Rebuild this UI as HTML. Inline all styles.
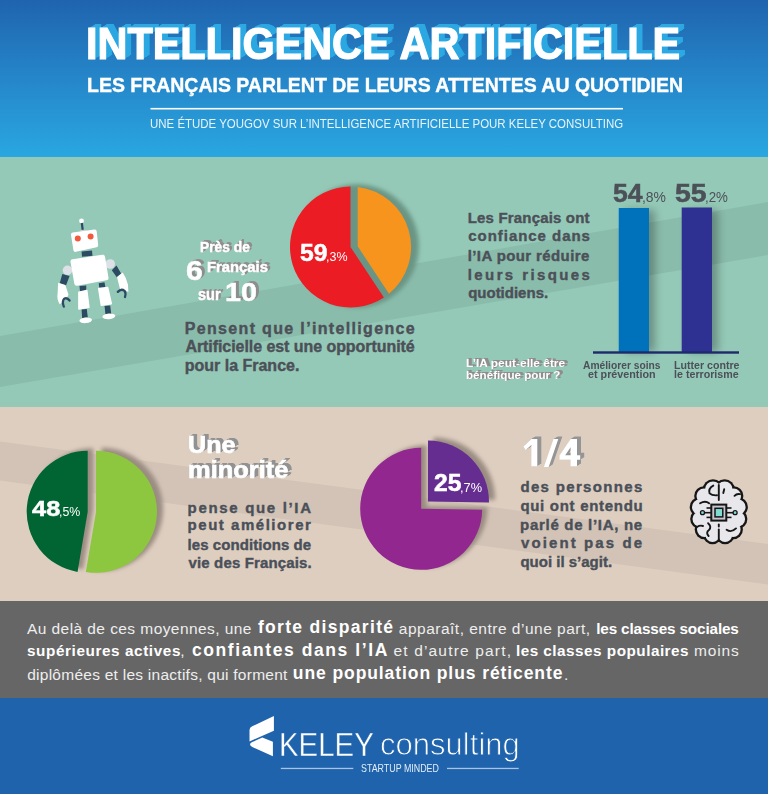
<!DOCTYPE html>
<html><head><meta charset="utf-8">
<style>
html,body{margin:0;padding:0;}
body{width:768px;height:794px;position:relative;overflow:hidden;font-family:"Liberation Sans",sans-serif;background:#95c8b5;}
.t{position:absolute;white-space:nowrap;line-height:1;transform-origin:0 0;}
svg{position:absolute;left:0;top:0;}
</style></head><body>
<svg width="768" height="794" viewBox="0 0 768 794">
  <defs>
    <linearGradient id="hg" x1="0" y1="0" x2="0" y2="1"><stop offset="0" stop-color="#1f64ae"/><stop offset="0.5" stop-color="#2586c9"/><stop offset="1" stop-color="#29a7e0"/></linearGradient>
    <filter id="bl3" x="-20%" y="-20%" width="140%" height="140%"><feGaussianBlur stdDeviation="2.5"/></filter>
    <filter id="bl4" x="-30%" y="-30%" width="160%" height="160%"><feGaussianBlur stdDeviation="2.3"/></filter>
    <filter id="bl5" x="-50%" y="-20%" width="200%" height="140%"><feGaussianBlur stdDeviation="4"/></filter>
  </defs>
  <!-- header -->
  <rect x="0" y="0" width="768" height="157" fill="url(#hg)"/>
  <rect x="150.5" y="107.9" width="472.5" height="1.6" fill="#fff"/>
  <!-- teal -->
  <rect x="0" y="157" width="768" height="250" fill="#95c9b7"/>
  <polygon points="0,336 768,202 768,255 0,387" fill="#8abcab"/>
  <!-- beige -->
  <rect x="0" y="407" width="768" height="194" fill="#decec0"/>
  <polygon points="0,441.5 768,544 768,584.5 0,480.5" fill="#d2c3b6"/>

  <!-- robot -->
  <g>
    <circle cx="81.5" cy="221" r="2.4" fill="#fff"/>
    <line x1="81.8" y1="223" x2="82.8" y2="231" stroke="#2c4a62" stroke-width="2.2"/>
    <ellipse cx="83.5" cy="231" rx="3.5" ry="1.3" fill="#c9ccd3"/>
    <polygon points="73,234.6 94.7,231.6 96.2,245.2 75.4,249.9" fill="#fff" stroke="#fff" stroke-width="4" stroke-linejoin="round"/>
    <circle cx="77.8" cy="238.4" r="3" fill="#f15a3a"/>
    <circle cx="90.6" cy="236.4" r="3" fill="#f15a3a"/>
    <polygon points="81.6,251.5 92,250.5 92.5,255.7 82,256.8" fill="#2c4a62"/>
    <circle cx="67.5" cy="270.3" r="4.8" fill="#dde0e6"/>
    <circle cx="110.2" cy="264" r="4.8" fill="#dde0e6"/>
    <polygon points="62.3,274 69.6,276 66,285.4 59.7,283.3" fill="#2c4a62"/>
    <path d="M58.1,282.8 L65.4,284.9 L68.5,294.8 Q67,299 63.9,301 L59.7,304.2 Q56.5,299 57.6,293.75 Z" fill="#fff"/>
    <path d="M69.6,300.5 Q67,297.2 64.2,298.8 Q61.8,301.5 63.8,306.6" fill="none" stroke="#2c4a62" stroke-width="2.3" stroke-linecap="round"/>
    <polygon points="111.8,270.3 116.5,265.6 121.1,273.4 117,277.6" fill="#2c4a62"/>
    <path d="M117,277 L122.7,272.4 Q126.5,278 127.9,284.4 L128.4,291.7 L120.1,289.6 Z" fill="#fff"/>
    <path d="M117.8,291.9 Q121.2,288.3 124.5,290.8 Q126.2,293 125,297" fill="none" stroke="#2c4a62" stroke-width="2.3" stroke-linecap="round"/>
    <polygon points="79.5,286 86.25,285.4 86.25,291 80,291.5" fill="#2c4a62"/>
    <polygon points="98.75,283.3 104.5,282.3 105.5,288 99.3,288.5" fill="#2c4a62"/>
    <polygon points="73,261.8 102.6,257.3 106,277.8 76.8,283.3" fill="#fff" stroke="#fff" stroke-width="5" stroke-linejoin="round"/>
    <polygon points="78.9,292.2 86.8,290.6 88.9,307.3 78.9,308.9" fill="#fff" stroke="#fff" stroke-width="1.5" stroke-linejoin="round"/>
    <polygon points="98.7,288.5 107.6,287.5 111.3,303.7 101.3,305.2" fill="#fff" stroke="#fff" stroke-width="1.5" stroke-linejoin="round"/>
    <polygon points="81.6,309.6 86.8,309.1 87.8,317.5 82.1,318" fill="#2c4a62"/>
    <polygon points="104.5,306 110.2,305.5 111.25,314 105.5,314.5" fill="#2c4a62"/>
    <ellipse cx="85.7" cy="320.3" rx="6.3" ry="2.8" fill="#fff" transform="rotate(-5 85.7 320.3)"/>
    <ellipse cx="108.9" cy="316.4" rx="6.5" ry="2.8" fill="#fff" transform="rotate(-5 108.9 316.4)"/>
  </g>

  <!-- pie 1 -->
  <circle cx="357" cy="246" r="61.8" fill="#6a9585" filter="url(#bl4)"/>
  <path d="M350.5,247 L350.5,186.5 A60.5,60.5 0 1,0 383.9,297.45 Z" fill="#ec1c24"/>
  <path d="M357.7,186.93 L357.7,246.3 L389,293.7 A60.5,60.5 0 0,0 357.7,186.93 Z" fill="#f7941d"/>

  <!-- bars -->
  <g filter="url(#bl5)" fill="#000" opacity="0.28">
    <rect x="625" y="210" width="30" height="142"/>
    <rect x="688" y="210" width="30" height="142"/>
  </g>
  <rect x="618.75" y="208" width="30.25" height="144" fill="#0072bc"/>
  <rect x="681.7" y="207.5" width="30.3" height="144.5" fill="#2e3192"/>
  <rect x="593" y="351.3" width="146" height="2.4" fill="#1f2a6c"/>

  <!-- pie 2 -->
  <g filter="url(#bl4)" fill="#9b8c82"><path d="M93.20,509.25 L83.03,569.40 A61,61 0 0,1 93.20,448.25 Z"/><path d="M101.50,509.25 L101.50,447.75 A61.5,61.5 0 1,1 91.24,569.89 Z"/></g>
  <path d="M87.70,511.75 L77.53,571.90 A61,61 0 0,1 87.70,450.75 Z" fill="#006532"/>
  <path d="M96.00,511.75 L96.00,450.75 A61,61 0 1,1 85.83,571.90 Z" fill="#8dc63f"/>

  <!-- pie 3 -->
  <g filter="url(#bl4)" fill="#9a8c81"><path d="M426.70,506.30 L487.69,507.15 A61,61 0 1,1 426.70,445.30 Z"/><path d="M433.50,499.10 L433.50,437.60 A61.5,61.5 0 0,1 494.99,499.96 Z"/></g>
  <path d="M421.20,508.80 L482.19,509.65 A61,61 0 1,1 421.20,447.80 Z" fill="#92278f"/>
  <path d="M428.00,501.60 L428.00,440.60 A61,61 0 0,1 488.99,502.45 Z" fill="#662d91"/>

  <!-- brain -->
  <g>
    <g fill="#161616"><circle cx="713" cy="489.5" r="10.3"/><circle cx="704" cy="496" r="9.8"/><circle cx="699.5" cy="507" r="9.8"/><circle cx="700" cy="519" r="9.8"/><circle cx="704.5" cy="529.5" r="9.8"/><circle cx="712.5" cy="535" r="9.3"/><circle cx="711" cy="512" r="13.3"/><circle cx="710" cy="500" r="10.3"/><circle cx="710" cy="525" r="10.3"/><circle cx="724.6" cy="489.5" r="10.3"/><circle cx="733.6" cy="496" r="9.8"/><circle cx="738.1" cy="507" r="9.8"/><circle cx="737.6" cy="519" r="9.8"/><circle cx="733.1" cy="529.5" r="9.8"/><circle cx="725.1" cy="535" r="9.3"/><circle cx="726.6" cy="512" r="13.3"/><circle cx="727.6" cy="500" r="10.3"/><circle cx="727.6" cy="525" r="10.3"/></g><g fill="#e8e7eb"><circle cx="713" cy="489.5" r="8"/><circle cx="704" cy="496" r="7.5"/><circle cx="699.5" cy="507" r="7.5"/><circle cx="700" cy="519" r="7.5"/><circle cx="704.5" cy="529.5" r="7.5"/><circle cx="712.5" cy="535" r="7"/><circle cx="711" cy="512" r="11"/><circle cx="710" cy="500" r="8"/><circle cx="710" cy="525" r="8"/><circle cx="724.6" cy="489.5" r="8"/><circle cx="733.6" cy="496" r="7.5"/><circle cx="738.1" cy="507" r="7.5"/><circle cx="737.6" cy="519" r="7.5"/><circle cx="733.1" cy="529.5" r="7.5"/><circle cx="725.1" cy="535" r="7"/><circle cx="726.6" cy="512" r="11"/><circle cx="727.6" cy="500" r="8"/><circle cx="727.6" cy="525" r="8"/><ellipse cx="718.8" cy="512.5" rx="21" ry="25"/></g>
    <g fill="none" stroke="#161616" stroke-width="1.9" stroke-linecap="round">
      <line x1="718.8" y1="485" x2="718.8" y2="500"/>
      <line x1="718.8" y1="524.5" x2="718.8" y2="526.5"/>
      <line x1="718.8" y1="529.5" x2="718.8" y2="541"/>
      <path d="M713.3,485.6 Q708,488.5 709.6,493.4 Q712,495.6 717,495.3"/>
      <path d="M724.2,489.2 L723.3,493"/>
      <path d="M734.5,495.8 Q737,493.2 740,494.2"/>
      <path d="M700.1,503.3 Q705.3,500.3 709.1,503.3"/>
      <path d="M708.1,523.2 Q712,526.5 709,530 Q705.5,532.5 708.6,536"/>
      <path d="M726.6,529.8 Q731.3,533 736,528.4"/>
      <path d="M697,527 Q700,525 703,526"/>
    </g>
    <g stroke="#161616" stroke-width="1.6">
      <line x1="706.5" y1="508" x2="711" y2="508"/><line x1="704" y1="512.7" x2="711" y2="512.7"/><line x1="706.5" y1="517.4" x2="711" y2="517.4"/>
      <line x1="727" y1="508" x2="731.5" y2="508"/><line x1="727" y1="512.7" x2="734" y2="512.7"/><line x1="727" y1="517.4" x2="731.5" y2="517.4"/>
    </g>
    <rect x="711.3" y="504.6" width="15" height="16" fill="#c9c7cd" stroke="#161616" stroke-width="2"/>
    <rect x="715" y="508.3" width="7.8" height="8.6" fill="#7fdcd0" stroke="#161616" stroke-width="1.5"/>
    <circle cx="702.5" cy="512.7" r="2" fill="#7fdcd0" stroke="#161616" stroke-width="1.3"/>
    <circle cx="735.1" cy="512.7" r="2" fill="#7fdcd0" stroke="#161616" stroke-width="1.3"/>
  </g>

  <!-- one quarter -->
  <g fill="#959595"><g transform="translate(0.67,-0.42)"><path d="M531.4,439 L537.3,439 L537.3,466.2 L531.4,466.2 L531.4,445 L525.7,449.9 L523.5,446.6 Z M543.9,467.1 L548.7,467.1 L558.3,439 L553.5,439 Z M570.6,439 L577,439 L577,455.2 L580.2,455.2 L580.2,459.8 L577,459.8 L577,466.2 L570.6,466.2 L570.6,459.8 L559.6,459.8 L559.6,455.2 Z M570.6,447.2 L565.2,455.2 L570.6,455.2 Z" fill-rule="evenodd"/></g><g transform="translate(1.33,-0.83)"><path d="M531.4,439 L537.3,439 L537.3,466.2 L531.4,466.2 L531.4,445 L525.7,449.9 L523.5,446.6 Z M543.9,467.1 L548.7,467.1 L558.3,439 L553.5,439 Z M570.6,439 L577,439 L577,455.2 L580.2,455.2 L580.2,459.8 L577,459.8 L577,466.2 L570.6,466.2 L570.6,459.8 L559.6,459.8 L559.6,455.2 Z M570.6,447.2 L565.2,455.2 L570.6,455.2 Z" fill-rule="evenodd"/></g><g transform="translate(2.00,-1.25)"><path d="M531.4,439 L537.3,439 L537.3,466.2 L531.4,466.2 L531.4,445 L525.7,449.9 L523.5,446.6 Z M543.9,467.1 L548.7,467.1 L558.3,439 L553.5,439 Z M570.6,439 L577,439 L577,455.2 L580.2,455.2 L580.2,459.8 L577,459.8 L577,466.2 L570.6,466.2 L570.6,459.8 L559.6,459.8 L559.6,455.2 Z M570.6,447.2 L565.2,455.2 L570.6,455.2 Z" fill-rule="evenodd"/></g><g transform="translate(2.67,-1.67)"><path d="M531.4,439 L537.3,439 L537.3,466.2 L531.4,466.2 L531.4,445 L525.7,449.9 L523.5,446.6 Z M543.9,467.1 L548.7,467.1 L558.3,439 L553.5,439 Z M570.6,439 L577,439 L577,455.2 L580.2,455.2 L580.2,459.8 L577,459.8 L577,466.2 L570.6,466.2 L570.6,459.8 L559.6,459.8 L559.6,455.2 Z M570.6,447.2 L565.2,455.2 L570.6,455.2 Z" fill-rule="evenodd"/></g><g transform="translate(3.33,-2.08)"><path d="M531.4,439 L537.3,439 L537.3,466.2 L531.4,466.2 L531.4,445 L525.7,449.9 L523.5,446.6 Z M543.9,467.1 L548.7,467.1 L558.3,439 L553.5,439 Z M570.6,439 L577,439 L577,455.2 L580.2,455.2 L580.2,459.8 L577,459.8 L577,466.2 L570.6,466.2 L570.6,459.8 L559.6,459.8 L559.6,455.2 Z M570.6,447.2 L565.2,455.2 L570.6,455.2 Z" fill-rule="evenodd"/></g><g transform="translate(4.00,-2.50)"><path d="M531.4,439 L537.3,439 L537.3,466.2 L531.4,466.2 L531.4,445 L525.7,449.9 L523.5,446.6 Z M543.9,467.1 L548.7,467.1 L558.3,439 L553.5,439 Z M570.6,439 L577,439 L577,455.2 L580.2,455.2 L580.2,459.8 L577,459.8 L577,466.2 L570.6,466.2 L570.6,459.8 L559.6,459.8 L559.6,455.2 Z M570.6,447.2 L565.2,455.2 L570.6,455.2 Z" fill-rule="evenodd"/></g></g>
  <g fill="#fff"><path d="M531.4,439 L537.3,439 L537.3,466.2 L531.4,466.2 L531.4,445 L525.7,449.9 L523.5,446.6 Z M543.9,467.1 L548.7,467.1 L558.3,439 L553.5,439 Z M570.6,439 L577,439 L577,455.2 L580.2,455.2 L580.2,459.8 L577,459.8 L577,466.2 L570.6,466.2 L570.6,459.8 L559.6,459.8 L559.6,455.2 Z M570.6,447.2 L565.2,455.2 L570.6,455.2 Z" fill-rule="evenodd"/></g>

  <!-- gray section -->
  <rect x="0" y="601" width="768" height="97" fill="#666666"/>
  <!-- footer -->
  <rect x="0" y="698" width="768" height="96" fill="#1f63ac"/>
  <path d="M252.2,726.3 L273.9,716.1 L273.9,730.8 L249.5,741.4 L249.5,730 Q249.5,727.5 252.2,726.3 Z" fill="#fff"/>
  <path d="M262.3,737.6 L272.9,741.7 L272.9,756.3 L252.3,747 Q249.3,745.4 250.3,743.6 Q250.9,742.7 252.3,742.1 Z" fill="#fff"/>
  <rect x="280.8" y="767.8" width="72.5" height="1.3" fill="#a9c3e3"/>
  <rect x="447" y="767.8" width="71.7" height="1.3" fill="#a9c3e3"/>
</svg>
<div class="t" style="left:85.91px;top:21.50px;font-size:44px;font-weight:700;color:#fff;text-shadow:0.70px -0.40px 0 #2ca8e2,1.40px -0.80px 0 #2ca8e2,2.10px -1.20px 0 #2ca8e2,2.80px -1.60px 0 #2ca8e2,3.50px -2.00px 0 #2ca8e2,4.20px -2.40px 0 #2ca8e2,4.90px -2.80px 0 #2ca8e2,5.60px -3.20px 0 #2ca8e2,6.30px -3.60px 0 #2ca8e2,7.00px -4.00px 0 #2ca8e2;-webkit-text-stroke:1.2px #fff;transform:scaleX(0.9409);">INTELLIGENCE ARTIFICIELLE</div>
<div class="t" style="left:87.25px;top:75.32px;font-size:20.3px;font-weight:700;color:#fff;-webkit-text-stroke:0.4px #fff;transform:scaleX(0.9601);">LES FRANÇAIS PARLENT DE LEURS ATTENTES AU QUOTIDIEN</div>
<div class="t" style="left:149.98px;top:117.83px;font-size:12.6px;font-weight:400;color:#e8f4fb;transform:scaleX(0.9102);">UNE ÉTUDE YOUGOV SUR L’INTELLIGENCE ARTIFICIELLE POUR KELEY CONSULTING</div>
<div class="t" style="left:199.63px;top:239.80px;font-size:14.3px;font-weight:700;color:#fff;text-shadow:0.75px -0.50px 0 #8e8e8e,1.50px -1.00px 0 #8e8e8e,2.25px -1.50px 0 #8e8e8e,3.00px -2.00px 0 #8e8e8e;-webkit-text-stroke:0.5px #fff;transform:scaleX(0.9639);">Près de</div>
<div class="t" style="left:185.96px;top:257.02px;font-size:27.5px;font-weight:700;color:#fff;text-shadow:0.75px -0.50px 0 #8e8e8e,1.50px -1.00px 0 #8e8e8e,2.25px -1.50px 0 #8e8e8e,3.00px -2.00px 0 #8e8e8e;-webkit-text-stroke:0.5px #fff;transform:scaleX(1.0982);">6</div>
<div class="t" style="left:206.53px;top:260.82px;font-size:13.8px;font-weight:700;color:#fff;text-shadow:0.75px -0.50px 0 #8e8e8e,1.50px -1.00px 0 #8e8e8e,2.25px -1.50px 0 #8e8e8e,3.00px -2.00px 0 #8e8e8e;-webkit-text-stroke:0.5px #fff;transform:scaleX(1.0724);">Français</div>
<div class="t" style="left:197.54px;top:287.46px;font-size:16px;font-weight:700;color:#fff;text-shadow:0.75px -0.50px 0 #8e8e8e,1.50px -1.00px 0 #8e8e8e,2.25px -1.50px 0 #8e8e8e,3.00px -2.00px 0 #8e8e8e;-webkit-text-stroke:0.5px #fff;transform:scaleX(0.9101);">sur</div>
<div class="t" style="left:225.20px;top:278.57px;font-size:26.5px;font-weight:700;color:#fff;text-shadow:0.75px -0.50px 0 #8e8e8e,1.50px -1.00px 0 #8e8e8e,2.25px -1.50px 0 #8e8e8e,3.00px -2.00px 0 #8e8e8e;-webkit-text-stroke:0.5px #fff;transform:scaleX(1.0843);">10</div>
<div class="t" style="left:300.08px;top:241.38px;font-size:24px;font-weight:700;color:#fff;-webkit-text-stroke:0.5px #fff;transform:scaleX(1.0299);">59</div>
<div class="t" style="left:326.39px;top:250.27px;font-size:13.5px;font-weight:400;color:#fff;transform:scaleX(0.9234);">,3%</div>
<div class="t" style="left:184.70px;top:320.76px;font-size:16px;font-weight:700;color:#4c5058;-webkit-text-stroke-width:0.4px;letter-spacing:1.340px;">Pensent que l’intelligence</div>
<div class="t" style="left:185.40px;top:339.06px;font-size:16px;font-weight:700;color:#4c5058;-webkit-text-stroke-width:0.4px;letter-spacing:-0.059px;">Artificielle est une opportunité</div>
<div class="t" style="left:184.70px;top:358.26px;font-size:16px;font-weight:700;color:#4c5058;-webkit-text-stroke-width:0.4px;">pour la France.</div>
<div class="t" style="left:467.75px;top:209.50px;font-size:15px;font-weight:700;color:#4c5058;-webkit-text-stroke-width:0.4px;letter-spacing:0.170px;">Les Français ont</div>
<div class="t" style="left:468.25px;top:228.30px;font-size:15px;font-weight:700;color:#4c5058;-webkit-text-stroke-width:0.4px;letter-spacing:0.961px;">confiance dans</div>
<div class="t" style="left:467.75px;top:247.50px;font-size:15px;font-weight:700;color:#4c5058;-webkit-text-stroke-width:0.4px;letter-spacing:0.390px;">l’IA pour réduire</div>
<div class="t" style="left:467.75px;top:266.60px;font-size:15px;font-weight:700;color:#4c5058;-webkit-text-stroke-width:0.4px;letter-spacing:2.401px;">leurs risques</div>
<div class="t" style="left:468.15px;top:285.10px;font-size:15px;font-weight:700;color:#4c5058;-webkit-text-stroke-width:0.4px;">quotidiens.</div>
<div class="t" style="left:612.56px;top:180.54px;font-size:25px;font-weight:700;color:#4c5058;-webkit-text-stroke-width:0.5px;transform:scaleX(1.0628);">54</div>
<div class="t" style="left:641.79px;top:189.00px;font-size:15px;font-weight:400;color:#4c5058;transform:scaleX(0.9291);">,8%</div>
<div class="t" style="left:674.60px;top:180.54px;font-size:25px;font-weight:700;color:#4c5058;-webkit-text-stroke-width:0.5px;transform:scaleX(1.1395);">55</div>
<div class="t" style="left:705.35px;top:189.00px;font-size:15px;font-weight:400;color:#4c5058;transform:scaleX(0.8876);">,2%</div>
<div class="t" style="left:582.82px;top:360.27px;font-size:11.5px;font-weight:700;color:#4c5058;transform:scaleX(0.8920);">Améliorer soins</div>
<div class="t" style="left:587.63px;top:368.57px;font-size:11.5px;font-weight:700;color:#4c5058;transform:scaleX(0.9356);">et prévention</div>
<div class="t" style="left:674.15px;top:360.27px;font-size:11.5px;font-weight:700;color:#4c5058;transform:scaleX(0.9239);">Lutter contre</div>
<div class="t" style="left:674.06px;top:368.57px;font-size:11.5px;font-weight:700;color:#4c5058;transform:scaleX(0.9289);">le terrorisme</div>
<div class="t" style="left:466.24px;top:357.89px;font-size:11px;font-weight:700;color:#fff;text-shadow:0.75px -0.38px 0 #8e8e8e,1.50px -0.75px 0 #8e8e8e,2.25px -1.12px 0 #8e8e8e,3.00px -1.50px 0 #8e8e8e;transform:scaleX(1.0863);">L’IA peut-elle être</div>
<div class="t" style="left:466.26px;top:370.39px;font-size:11px;font-weight:700;color:#fff;text-shadow:0.75px -0.38px 0 #8e8e8e,1.50px -0.75px 0 #8e8e8e,2.25px -1.12px 0 #8e8e8e,3.00px -1.50px 0 #8e8e8e;transform:scaleX(1.0580);">bénéfique pour ?</div>
<div class="t" style="left:31.65px;top:497.88px;font-size:22px;font-weight:700;color:#fff;-webkit-text-stroke:0.5px #fff;transform:scaleX(1.1557);">48</div>
<div class="t" style="left:58.91px;top:505.92px;font-size:12.5px;font-weight:400;color:#fff;transform:scaleX(0.9888);">,5%</div>
<div class="t" style="left:188.36px;top:432.96px;font-size:24.5px;font-weight:700;color:#fff;text-shadow:0.67px -0.42px 0 #929292,1.33px -0.83px 0 #929292,2.00px -1.25px 0 #929292,2.67px -1.67px 0 #929292,3.33px -2.08px 0 #929292,4.00px -2.50px 0 #929292;-webkit-text-stroke:0.7px #fff;transform:scaleX(1.0259);">Une</div>
<div class="t" style="left:187.54px;top:458.06px;font-size:24.5px;font-weight:700;color:#fff;text-shadow:0.67px -0.42px 0 #929292,1.33px -0.83px 0 #929292,2.00px -1.25px 0 #929292,2.67px -1.67px 0 #929292,3.33px -2.08px 0 #929292,4.00px -2.50px 0 #929292;-webkit-text-stroke:0.7px #fff;transform:scaleX(1.0401);">minorité</div>
<div class="t" style="left:187.60px;top:499.60px;font-size:15px;font-weight:700;color:#4a5059;-webkit-text-stroke-width:0.4px;letter-spacing:1.673px;">pense que l’IA</div>
<div class="t" style="left:187.60px;top:517.30px;font-size:15px;font-weight:700;color:#4a5059;-webkit-text-stroke-width:0.4px;letter-spacing:1.529px;">peut améliorer</div>
<div class="t" style="left:187.50px;top:537.00px;font-size:15px;font-weight:700;color:#4a5059;-webkit-text-stroke-width:0.4px;letter-spacing:0.070px;">les conditions de</div>
<div class="t" style="left:188.50px;top:554.90px;font-size:15px;font-weight:700;color:#4a5059;-webkit-text-stroke-width:0.4px;letter-spacing:0.142px;">vie des Français.</div>
<div class="t" style="left:433.56px;top:472.01px;font-size:23.5px;font-weight:700;color:#fff;-webkit-text-stroke:0.5px #fff;transform:scaleX(1.0497);">25</div>
<div class="t" style="left:460.12px;top:480.90px;font-size:13px;font-weight:400;color:#fff;transform:scaleX(0.9836);">,7%</div>
<div class="t" style="left:520.40px;top:478.70px;font-size:15px;font-weight:700;color:#4a5059;-webkit-text-stroke-width:0.4px;letter-spacing:1.331px;">des personnes</div>
<div class="t" style="left:520.40px;top:497.60px;font-size:15px;font-weight:700;color:#4a5059;-webkit-text-stroke-width:0.4px;letter-spacing:0.699px;">qui ont entendu</div>
<div class="t" style="left:520.10px;top:516.50px;font-size:15px;font-weight:700;color:#4a5059;-webkit-text-stroke-width:0.4px;letter-spacing:0.698px;">parlé de l’IA, ne</div>
<div class="t" style="left:521.00px;top:535.30px;font-size:15px;font-weight:700;color:#4a5059;-webkit-text-stroke-width:0.4px;letter-spacing:2.107px;">voient pas de</div>
<div class="t" style="left:520.40px;top:553.70px;font-size:15px;font-weight:700;color:#4a5059;-webkit-text-stroke-width:0.4px;">quoi il s’agit.</div>
<div class="t" style="left:278.50px;top:726.82px;font-size:34px;font-weight:400;color:#fff;-webkit-text-stroke:0.4px #1f63ac;transform:scaleX(0.8649);">KELEY</div>
<div class="t" style="left:379.53px;top:729.34px;font-size:31.5px;font-weight:400;color:#fff;-webkit-text-stroke:0.9px #1f63ac;transform:scaleX(0.9857);">consulting</div>
<div class="t" style="left:361.26px;top:763.13px;font-size:10.6px;font-weight:400;color:#e4eef8;transform:scaleX(0.8377);">STARTUP MINDED</div>
<div class="t" style="left:27.00px;top:620.63px;font-size:15.5px;font-weight:400;color:#eeeeee;letter-spacing:0.429px;">Au delà de ces moyennes, une</div>
<div class="t" style="left:257.90px;top:618.94px;font-size:17.5px;font-weight:700;color:#fff;letter-spacing:1.317px;">forte disparité</div>
<div class="t" style="left:398.80px;top:620.63px;font-size:15.5px;font-weight:400;color:#eeeeee;letter-spacing:0.496px;">apparaît, entre d’une part,</div>
<div class="t" style="left:596.20px;top:620.80px;font-size:15.3px;font-weight:700;color:#fff;letter-spacing:-0.145px;">les classes sociales</div>
<div class="t" style="left:27.00px;top:643.45px;font-size:15.3px;font-weight:700;color:#fff;letter-spacing:0.585px;">supérieures actives</div>
<div class="t" style="left:180.30px;top:643.28px;font-size:15.5px;font-weight:400;color:#eeeeee;">,</div>
<div class="t" style="left:192.00px;top:641.59px;font-size:17.5px;font-weight:700;color:#fff;letter-spacing:1.580px;">confiantes dans l’IA</div>
<div class="t" style="left:393.40px;top:643.28px;font-size:15.5px;font-weight:400;color:#eeeeee;letter-spacing:1.177px;">et d’autre part,</div>
<div class="t" style="left:515.90px;top:643.45px;font-size:15.3px;font-weight:700;color:#fff;letter-spacing:0.489px;">les classes populaires</div>
<div class="t" style="left:694.10px;top:643.28px;font-size:15.5px;font-weight:400;color:#eeeeee;letter-spacing:0.851px;">moins</div>
<div class="t" style="left:27.20px;top:666.68px;font-size:15.5px;font-weight:400;color:#eeeeee;letter-spacing:0.257px;">diplômées et les inactifs, qui forment</div>
<div class="t" style="left:292.80px;top:664.99px;font-size:17.5px;font-weight:700;color:#fff;letter-spacing:0.914px;">une population plus réticente</div>
<div class="t" style="left:564.10px;top:666.68px;font-size:15.5px;font-weight:400;color:#eeeeee;">.</div>

</body></html>
